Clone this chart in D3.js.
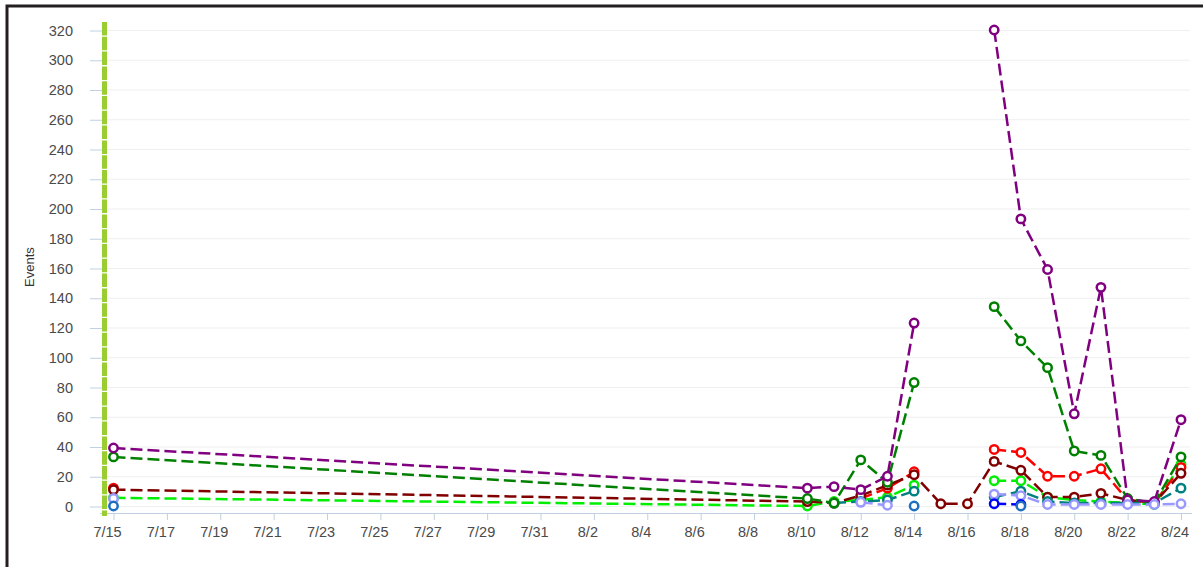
<!DOCTYPE html>
<html>
<head>
<meta charset="utf-8">
<script src="https://d3js.org/d3.v7.min.js"></script>
<style>
  body { margin: 0; background: #fff; }
  svg { display: block; font-family: "Liberation Sans", Arial, sans-serif; }
  .grid line { stroke: #efefef; stroke-width: 1; }
  .yAxis text, .xAxis text { fill: #4a4a4a; font-size: 14.5px; }
  .yAxis line, .xAxis line { stroke: #c0d0e0; }
</style>
</head>
<body>
<div id="chart"></div>
<script>

var dates = ["7/15", "8/10", "8/11", "8/12", "8/13", "8/14", "8/15", "8/16",
             "8/17", "8/18", "8/19", "8/20", "8/21", "8/22", "8/23", "8/24"];

var tickLabels = ["7/15", "7/17", "7/19", "7/21", "7/23", "7/25", "7/27", "7/29", "7/31",
                  "8/2", "8/4", "8/6", "8/8", "8/10", "8/12", "8/14", "8/16", "8/18",
                  "8/20", "8/22", "8/24"];

var yTicks = [0, 20, 40, 60, 80, 100, 120, 140, 160, 180, 200, 220, 240, 260, 280, 300, 320];

var limeValues     = [5.5, 0, 3, 4, 6, 14, null, null, 17, 17, 6, 4, 3, 2, 1, 28];
var redValues      = [12, null, null, 5, 12, 23, null, null, 38, 36, 20, 20, 25, 4, 2, 26];
var maroonValues   = [11, 3, 2, 7, 14, 21, 1.5, 1.5, 30, 24, 6, 6, 8.5, 4, 2, 22];
var tealValues     = [null, null, 2, 3, 4, 10, null, null, 6, 10, 3, 2, 2, 2, 2, 12];
var greenValues    = [33, 5, 2, 31, 16, 83, null, null, 134, 111, 93, 37, 34, 5, 2, 33];
var purpleValues   = [39, 12, 13, 11, 20, 123, null, null, 320, 193, 159, 62, 147, 4, 3, 58];
var lavenderValues = [5, null, null, 2.5, 0.5, null, null, null, 8, 7, 1, 1, 1, 1, 1, 1.5];
var blueValues     = [null, null, null, null, null, null, null, null, 1.5, 1, null, null, null, null, null, null];
var steelValues    = [0, null, null, null, null, 0, null, null, null, 0, null, null, null, null, null, null];

var series = [
    { color: "#00ee00", values: limeValues },
    { color: "#ff0000", values: redValues },
    { color: "#800000", values: maroonValues },
    { color: "#008080", values: tealValues },
    { color: "#008000", values: greenValues },
    { color: "#800080", values: purpleValues },
    { color: "#9999ff", values: lavenderValues },
    { color: "#0000ff", values: blueValues },
    { color: "#1f6fc0", values: steelValues }
];

var W = 1203, H = 567;
var plotLeft = 102, plotRight = 1192, axisY = 513;

var parse = function(s){ return d3.timeParse("%m/%d/%Y")(s + "/2014"); };

var xScale = d3.scaleTime()
    .domain([parse("7/15"), parse("8/24")])
    .range([113.5, 1181]);

var yScale = d3.scaleLinear()
    .domain([0, 320])
    .range([506, 30]);

var svg = d3.select("#chart")
    .append("svg")
    .attr("width", W)
    .attr("height", H);

// frame of the screenshot
svg.append("rect")
    .attr("x", 7).attr("y", 6)
    .attr("width", 1300).attr("height", 700)
    .attr("fill", "none")
    .attr("stroke", "#231f20")
    .attr("stroke-width", 3);

// grid
svg.append("g")
    .attr("class", "grid")
    .selectAll("line")
    .data(yTicks).enter()
    .append("line")
    .attr("x1", plotLeft).attr("x2", plotRight - 2)
    .attr("y1", function(d){ return yScale(d) + 0.5; })
    .attr("y2", function(d){ return yScale(d) + 0.5; });

// y axis
var yAxis = d3.axisLeft(yScale).tickValues(yTicks).tickSize(12).tickPadding(17);
svg.append("g")
    .attr("class", "yAxis")
    .attr("transform", "translate(" + plotLeft + ",0.5)")
    .call(yAxis)
    .call(function(g){ g.select(".domain").remove(); });

svg.append("text")
    .attr("transform", "translate(34,267) rotate(-90)")
    .style("text-anchor", "middle")
    .style("font-size", "13px")
    .style("fill", "#333")
    .text("Events");

// x axis
var xAxis = d3.axisBottom(xScale)
    .tickValues(tickLabels.map(parse))
    .tickFormat(function(d, i){ return tickLabels[i]; })
    .tickSize(7)
    .tickPadding(7);

var gx = svg.append("g")
    .attr("class", "xAxis")
    .attr("transform", "translate(0," + axisY + ")")
    .call(xAxis);
gx.select(".domain").remove();
gx.selectAll("text").attr("dx", -6.5);
gx.append("line")
    .attr("x1", 100).attr("x2", plotRight)
    .attr("y1", 0.5).attr("y2", 0.5)
    .attr("stroke", "#c0d0e0");

// dashed marker band on the left
svg.append("line")
    .attr("x1", 104.5).attr("x2", 104.5)
    .attr("y1", 22).attr("y2", 516)
    .attr("stroke", "#9acd32")
    .attr("stroke-width", 5)
    .attr("stroke-dasharray", "13.5,1.3");

var line = d3.line()
    .defined(function(d){ return d.v != null; })
    .x(function(d){ return xScale(d.date); })
    .y(function(d){ return yScale(d.v); });

series.forEach(function(s){
    var pts = dates.map(function(d, i){ return { date: parse(d), v: s.values[i] }; });

    svg.append("path")
        .datum(pts)
        .attr("fill", "none")
        .attr("stroke", s.color)
        .attr("stroke-width", 2.5)
        .attr("stroke-dasharray", "12,5")
        .attr("d", line);

    svg.append("g")
        .selectAll("circle")
        .data(pts.filter(function(d){ return d.v != null; })).enter()
        .append("circle")
        .attr("cx", function(d){ return xScale(d.date); })
        .attr("cy", function(d){ return yScale(d.v); })
        .attr("r", 4.2)
        .attr("fill", "#fff")
        .attr("stroke", s.color)
        .attr("stroke-width", 2.5);
});

</script>
</body>
</html>
